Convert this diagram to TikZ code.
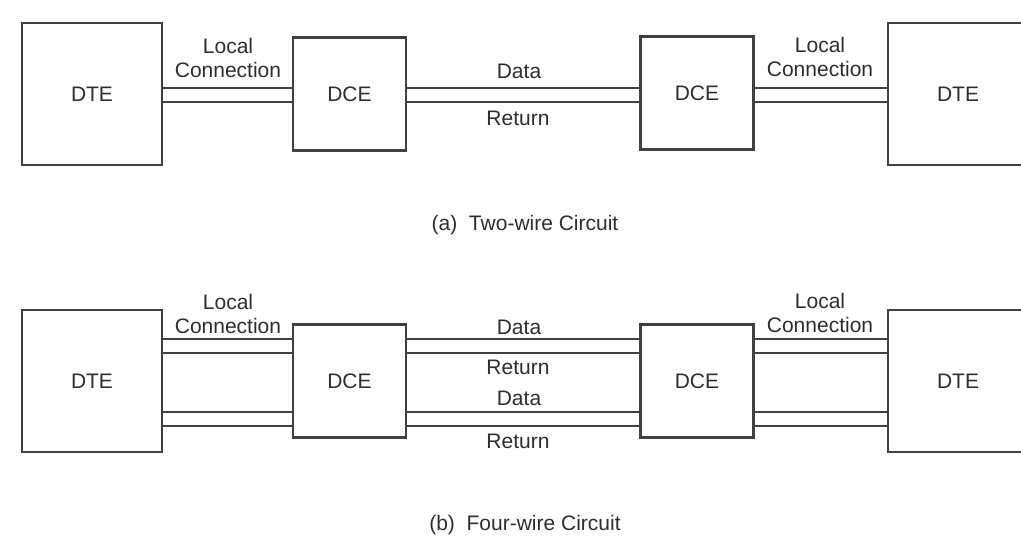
\documentclass[tikz,border=0pt]{standalone}
\usepackage{fontspec}
\setmainfont{Liberation Sans}
\usetikzlibrary{positioning}

\begin{document}
\begin{tikzpicture}[
    x=1pt, y=-1pt,
    every node/.style={align=center, text=black!82, font=\fontsize{21}{23.5}\selectfont},
    dtebox/.style={draw=black!75, line width=2.2pt, minimum width=140pt, minimum height=142pt, inner sep=0pt},
    dcebox/.style={draw=black!75, line width=2.2pt, minimum width=113pt, minimum height=113pt, inner sep=0pt},
    wire/.style={draw=black!75, line width=2.2pt}
  ]
  \useasboundingbox[fill=white] (0,0) rectangle (1021,556);
  \clip (0,0) rectangle (1021,556);

  % (a) two-wire circuit
  \node[dtebox] (dteA) at (92,94) {DTE};
  \node[dcebox] (dceA) at (349.5,94) {DCE};
  \node[dcebox] (dceB) at (697,93) {DCE};
  \node[dtebox] (dteB) at (958,94) {DTE};

  \node (localA) at (228,58) {Local\\Connection};
  \node (localB) at (820,57) {Local\\Connection};
  \node (dataA) at (519,71) {Data};
  \node (returnA) at (518,118) {Return};

  % Wires
  \draw[wire] ([yshift=6pt]dteA.east) -- ([yshift=6pt]dceA.west);
  \draw[wire] ([yshift=-8pt]dteA.east) -- ([yshift=-8pt]dceA.west);
  \draw[wire] ([yshift=6pt]dceA.east) -- ([yshift=5pt]dceB.west);
  \draw[wire] ([yshift=-8pt]dceA.east) -- ([yshift=-9pt]dceB.west);
  \draw[wire] ([yshift=5pt]dceB.east) -- ([yshift=6pt]dteB.west);
  \draw[wire] ([yshift=-9pt]dceB.east) -- ([yshift=-8pt]dteB.west);

  \node (captionA) at (525,225) {(a)\ \ Two-wire Circuit};

  % (b) four-wire circuit
  \node[dtebox] (dteC) at (92,381) {DTE};
  \node[dcebox] (dceC) at (349.5,381) {DCE};
  \node[dcebox] (dceD) at (697,381) {DCE};
  \node[dtebox] (dteD) at (958,381) {DTE};

  \node (localC) at (228,314) {Local\\Connection};
  \node (localD) at (820,313) {Local\\Connection};
  \node (dataC) at (519,327) {Data};
  \node (returnC) at (518,367) {Return};
  \node (dataD) at (519,398) {Data};
  \node (returnD) at (518,441) {Return};

  % Wires
  \draw[wire] ([yshift=42pt]dteC.east) -- ([yshift=42pt]dceC.west);
  \draw[wire] ([yshift=28pt]dteC.east) -- ([yshift=28pt]dceC.west);
  \draw[wire] ([yshift=-31pt]dteC.east) -- ([yshift=-31pt]dceC.west);
  \draw[wire] ([yshift=-45pt]dteC.east) -- ([yshift=-45pt]dceC.west);
  \draw[wire] ([yshift=42pt]dceC.east) -- ([yshift=42pt]dceD.west);
  \draw[wire] ([yshift=28pt]dceC.east) -- ([yshift=28pt]dceD.west);
  \draw[wire] ([yshift=-31pt]dceC.east) -- ([yshift=-31pt]dceD.west);
  \draw[wire] ([yshift=-45pt]dceC.east) -- ([yshift=-45pt]dceD.west);
  \draw[wire] ([yshift=42pt]dceD.east) -- ([yshift=42pt]dteD.west);
  \draw[wire] ([yshift=28pt]dceD.east) -- ([yshift=28pt]dteD.west);
  \draw[wire] ([yshift=-31pt]dceD.east) -- ([yshift=-31pt]dteD.west);
  \draw[wire] ([yshift=-45pt]dceD.east) -- ([yshift=-45pt]dteD.west);

  \node (captionB) at (525,525) {(b)\ \ Four-wire Circuit};
\end{tikzpicture}
\end{document}
